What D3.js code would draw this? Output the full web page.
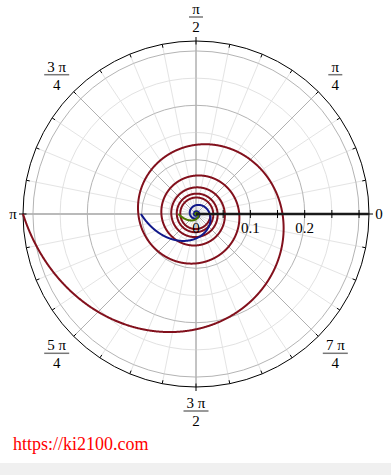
<!DOCTYPE html>
<html>
<head>
<meta charset="utf-8">
<script src="https://cdn.jsdelivr.net/npm/d3@7"></script>
<style>
  body { margin: 0; background: #fff; }
  svg { display: block; }
</style>
</head>
<body>
<script>
// curves r = 1/theta^k for theta in [pi, thetaEnd]
var exponents = [1, 2, 3];
var curveColors = ['#82101C', '#10188A', '#4A7800'];
var thetaStart = Math.PI, thetaEnd = 12 * Math.PI;

var radialGrid = [0.05, 0.1, 0.15, 0.2, 0.25, 0.3];
var radialLabels = [0, 0.1, 0.2];
var angleTicks = d3.range(0, 32).map(i => i * Math.PI / 16);
var labelAngles = [0, 1, 2, 3, 4, 5, 6, 7].map(i => i * Math.PI / 4);
var labelNum = ['0', 'π', 'π', '3 π', 'π', '5 π', '3 π', '7 π'];
var labelDen = ['', '4', '2', '4', '', '4', '2', '4'];

var W = 391, H = 475;
var cx = 196, cy = 214, R = 173;
var serif = '"Liberation Serif", "Times New Roman", serif';

var svg = d3.select('body').append('svg')
  .attr('width', W)
  .attr('height', H);

svg.append('rect').attr('x', 0).attr('y', 463).attr('width', W).attr('height', 12).attr('fill', '#f0f0f0');

var r = d3.scaleLinear().domain([0, 1 / Math.PI]).range([0, R]);

function px(rad, a) { return cx + rad * Math.cos(a); }
function py(rad, a) { return cy - rad * Math.sin(a); }

var g = svg.append('g');

// light spokes
g.selectAll('line.spoke')
  .data(angleTicks)
  .enter().append('line')
  .attr('x1', cx).attr('y1', cy)
  .attr('x2', a => px(R, a)).attr('y2', a => py(R, a))
  .attr('stroke', (a, i) => i % 4 == 0 ? '#b0b0b0' : '#e4e4e4')
  .attr('stroke-width', 1);

// circles
g.selectAll('circle.grid')
  .data(radialGrid)
  .enter().append('circle')
  .attr('cx', cx).attr('cy', cy)
  .attr('r', d => r(d))
  .attr('fill', 'none')
  .attr('stroke', (d, i) => i % 2 == 1 ? '#b4b4b4' : '#e2e2e2')
  .attr('stroke-width', 1);

// re-draw major spokes on top of light circles
g.selectAll('line.major')
  .data(angleTicks.filter((a, i) => i % 4 == 0 && i != 0))
  .enter().append('line')
  .attr('x1', cx).attr('y1', cy)
  .attr('x2', a => px(R, a)).attr('y2', a => py(R, a))
  .attr('stroke', '#b0b0b0')
  .attr('stroke-width', a => Math.abs(a - Math.PI) < 0.01 ? 1.6 : 1);

// outer circle
g.append('circle')
  .attr('cx', cx).attr('cy', cy).attr('r', R)
  .attr('fill', 'none').attr('stroke', '#000').attr('stroke-width', 1);

// angular ticks
g.selectAll('line.atick')
  .data(angleTicks)
  .enter().append('line')
  .attr('x1', (a, i) => px(R - 3.5, a)).attr('y1', (a, i) => py(R - 3.5, a))
  .attr('x2', (a, i) => px(i % 8 == 0 ? R + 4 : R, a)).attr('y2', (a, i) => py(i % 8 == 0 ? R + 4 : R, a))
  .attr('stroke', '#000').attr('stroke-width', 1);

// curves
var line = d3.line().x(d => px(r(d[1]), d[0])).y(d => py(r(d[1]), d[0]));
var thetas = d3.range(thetaStart, thetaEnd, 0.005);
exponents.forEach(function(k, i) {
  g.append('path')
    .datum(thetas.map(t => [t, 1 / Math.pow(t, k)]))
    .attr('d', line)
    .attr('fill', 'none')
    .attr('stroke', curveColors[i])
    .attr('stroke-width', 2);
});

// radial axis
g.append('line')
  .attr('x1', cx).attr('y1', cy).attr('x2', cx + R).attr('y2', cy)
  .attr('stroke', '#1a1a1a').attr('stroke-width', 2.5);
g.selectAll('line.rtick')
  .data(radialGrid)
  .enter().append('line')
  .attr('x1', d => cx + r(d)).attr('x2', d => cx + r(d))
  .attr('y1', cy - 4).attr('y2', cy + 4)
  .attr('stroke', '#000').attr('stroke-width', 1);
g.selectAll('text.rlab')
  .data(radialLabels)
  .enter().append('text')
  .attr('x', d => cx + r(d))
  .attr('y', cy + 19)
  .attr('text-anchor', 'middle')
  .attr('font-family', serif)
  .attr('font-size', '15px')
  .attr('fill', '#000')
  .text(d => d);

// angle labels
labelAngles.forEach(function(a, i) {
  if (labelDen[i] == '') {
    g.append('text')
      .attr('x', px(183, a)).attr('y', py(183, a) + 5)
      .attr('text-anchor', 'middle')
      .attr('font-family', serif).attr('font-size', '15px')
      .attr('fill', '#000')
      .text(labelNum[i]);
  } else {
    var fx = px(197, a), fy = py(197, a);
    var bw = labelNum[i].length > 1 ? 25 : 14;
    g.append('text')
      .attr('x', fx).attr('y', fy - 3)
      .attr('text-anchor', 'middle')
      .attr('font-family', serif).attr('font-size', '15px')
      .attr('fill', '#000')
      .text(labelNum[i]);
    g.append('line')
      .attr('x1', fx - bw / 2).attr('x2', fx + bw / 2)
      .attr('y1', fy).attr('y2', fy)
      .attr('stroke', '#777').attr('stroke-width', 1.5);
    g.append('text')
      .attr('x', fx).attr('y', fy + 15)
      .attr('text-anchor', 'middle')
      .attr('font-family', serif).attr('font-size', '15px')
      .attr('fill', '#000')
      .text(labelDen[i]);
  }
});

svg.append('text')
  .attr('x', 13).attr('y', 450)
  .attr('font-family', serif).attr('font-size', '18px')
  .attr('fill', '#f00')
  .text('https://ki2100.com');
</script>
</body>
</html>
